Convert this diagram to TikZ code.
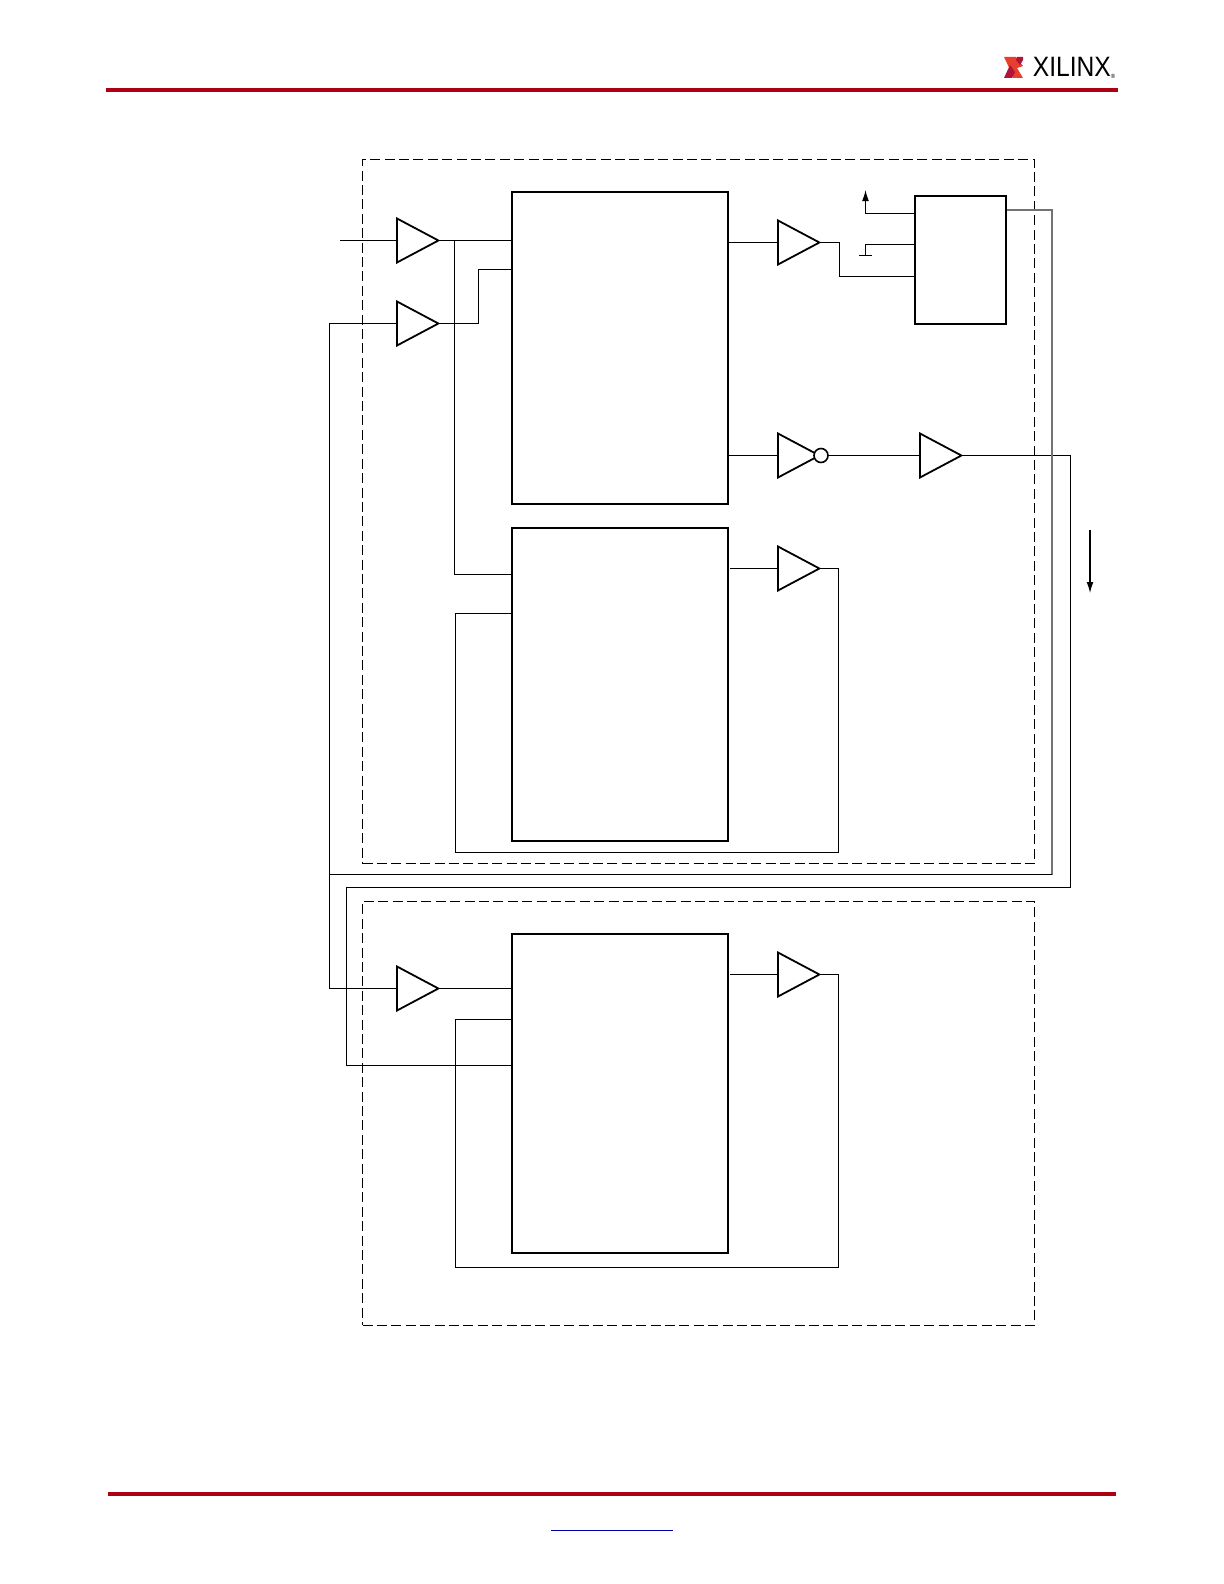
\documentclass[tikz,border=0pt]{standalone}
\usepackage{fontspec}
\setmainfont{Liberation Sans}
\usepackage{xcolor}
\usetikzlibrary{shapes.geometric, arrows.meta}
\definecolor{rulered}{RGB}{172,0,20}
\definecolor{logored}{RGB}{232,62,44}
\definecolor{logodark}{RGB}{176,20,56}
\definecolor{linkblue}{RGB}{0,0,170}

\begin{document}
\begin{tikzpicture}[x=0.5pt, y=-0.5pt,
    wire/.style={line width=0.55pt},
    frame/.style={rectangle, draw, line width=0.45pt, dash pattern=on 5pt off 2.2pt, inner sep=0pt},
    block/.style={rectangle, draw, line width=1pt, inner sep=0pt, minimum width=108pt},
    amp/.style={isosceles triangle, isosceles triangle stretches, draw, line width=0.9pt,
      minimum width=22pt, minimum height=20.7pt, inner sep=0pt, outer sep=0pt, anchor=lower side, fill=white},
    flow/.style={-{Latex[length=5.5pt,width=3.4pt]}, wire},
    rulebar/.style={line width=2pt, rulered}]
  \useasboundingbox (0,0) rectangle (1224,1584);

  % page furniture
  \coordinate (headl) at (106,90);
  \coordinate (headr) at (1118,90);
  \coordinate (footl) at (108,1493.5);
  \coordinate (footr) at (1116,1493.5);
  \coordinate (linkl) at (551,1530.5);
  \coordinate (linkr) at (673,1530.5);
  \draw[rulebar] (headl) -- (headr);
  \draw[rulebar] (footl) -- (footr);
  \draw[linkblue, line width=0.6pt] (linkl) -- (linkr);
  \fill[logored] (1004,57) -- (1016,57) -- (1023,66) -- (1017,68) -- (1023,78) -- (1013,78) -- (1009,67.5) -- cycle;
  \fill[logodark] (1004,78) -- (1012,78) -- (1015,72) -- (1010,65) -- cycle;
  \fill[logodark] (1017,57) -- (1023,57) -- (1023,60) -- (1020,65) -- (1016,60) -- cycle;
  \node[anchor=west, inner sep=0pt, font=\fontsize{14}{14}\selectfont, xscale=0.88] (logo) at (1032.5,67) {XILINX};
  \node[inner sep=0pt, font=\fontsize{3}{3}\selectfont] (reg) at (1113,76) {®};

  % dashed frames
  \node[frame, minimum width=336pt, minimum height=352pt] (upper) at (698.5,511.5) {};
  \node[frame, minimum width=336pt, minimum height=212pt] (lower) at (698.5,1113.25) {};

  % blocks
  \node[block, minimum height=156pt] (topblk) at (620,348) {};
  \node[block, minimum height=156.25pt] (midblk) at (620,684.25) {};
  \node[block, minimum height=159.5pt] (lowblk) at (620,1093) {};
  \node[rectangle, draw, line width=1pt, minimum width=45.5pt, minimum height=64pt, inner sep=0pt] (dcm) at (960.5,260) {};

  % buffers
  \node[amp] (ampa) at (397,240.5) {};
  \node[amp] (ampb) at (397,323.5) {};
  \node[amp] (ampc) at (397,988.5) {};
  \node[amp] (ampd) at (778,242.5) {};
  \node[amp] (ampe) at (778,455.5) {};
  \node[amp] (ampf) at (920,455.5) {};
  \node[amp] (ampg) at (778,568.5) {};
  \node[amp] (amph) at (778,974.5) {};
  \node[circle, draw, line width=0.8pt, fill=white, minimum size=7pt, inner sep=0pt] (inv) at (821,455.5) {};

  % free ends and bends
  \coordinate (inpin) at (340,240.5);
  \coordinate (fba) at (454.5,240.5);
  \coordinate (fbb) at (454.5,574.5);
  \coordinate (busa) at (329.5,874.5);
  \coordinate (busb) at (1052,874.5);
  \coordinate (busc) at (346.5,887.5);
  \coordinate (busd) at (1070.5,887.5);
  \coordinate (bakup) at (838.5,852.5);
  \coordinate (baklo) at (838.5,1267.5);
  \coordinate (stubup) at (865.5,190);
  \coordinate (stubgnd) at (865.5,255.5);
  \coordinate (gndl) at (859,255.5);
  \coordinate (gndr) at (872,255.5);
  \coordinate (flowa) at (1090,530);
  \coordinate (flowb) at (1090,593);

  % connectors
  \draw[wire] (inpin) -- (ampa.lower side);
  \draw[wire] (ampa.apex) -- (topblk.west |- ampa.apex);
  \draw[wire] (fba) -- (fbb) -- (midblk.west |- fbb);
  \draw[wire] (ampb.apex) -| (478.5,269.5) -- (topblk.west |- 0,269.5);
  \draw[wire] (ampb.lower side) -| (busa) |- (ampc.lower side);
  \draw[wire] (ampc.apex) -- (lowblk.west |- ampc.apex);
  \draw[wire] (topblk.east |- ampd.lower side) -- (ampd.lower side);
  \draw[wire] (ampd.apex) -| (839.5,276.5) -- (dcm.west |- 0,276.5);
  \draw[wire] (dcm.west |- 0,213.5) -| (stubup |- 0,200);
  \draw[flow] (stubup |- 0,200) -- (stubup);
  \draw[wire] (dcm.west |- 0,244.5) -| (stubgnd);
  \draw[wire] (gndl) -- (gndr);
  \draw[wire] (topblk.east |- ampe.lower side) -- (ampe.lower side);
  \draw[wire] (inv.east) -- (ampf.lower side);
  \draw[wire] (ampf.apex) -| (busd) -- (busc) |- (lowblk.west |- 0,1065.5);
  \draw[wire, black!55, line width=0.8pt] (dcm.east |- 0,210) -| (busb);
  \draw[wire] (busb) -- (busa);
  \draw[wire] (730,568.5) -- (ampg.lower side);
  \draw[wire] (ampg.apex) -| (bakup) -| (455.5,613.5) -- (midblk.west |- 0,613.5);
  \draw[wire] (730,974.5) -- (amph.lower side);
  \draw[wire] (amph.apex) -| (baklo) -| (455.5,1019.5) -- (lowblk.west |- 0,1019.5);
  \draw[flow] (flowa) -- (flowb);
\end{tikzpicture}
\end{document}
